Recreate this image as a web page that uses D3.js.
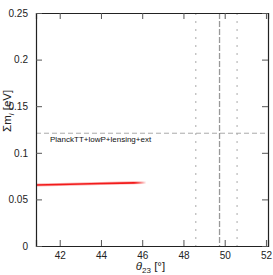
<!DOCTYPE html>
<html>
<head>
<meta charset="utf-8">
<script src="https://cdn.jsdelivr.net/npm/d3@7"></script>
<style>
  body { margin: 0; background: #fff; }
  text { font-family: "Liberation Sans", Arial, sans-serif; }
</style>
</head>
<body>
<div id="chart"></div>
<script>
var WIDTH = 273, HEIGHT = 275;
var margin = {top: 13, right: 5, bottom: 29, left: 36};

// data
var xTicks = [42, 44, 46, 48, 50, 52];
var yTicks = [0, 0.05, 0.1, 0.15, 0.2, 0.25];
var yTickLabels = ['0', '0.05', '0.1', '0.15', '0.2', '0.25'];
var redTheta = [40.85, 42, 43, 44, 45, 46.2];
var redMass = [0.0655, 0.066, 0.0665, 0.067, 0.0675, 0.068];
var planckLimit = 0.121;
var planckLabel = 'PlanckTT+lowP+lensing+ext';
var thetaBest = 49.75;
var thetaRange = [48.6, 50.6];

var w = WIDTH - margin.left - margin.right;
var h = HEIGHT - margin.top - margin.bottom;

var svg = d3.select('#chart').append('svg').attr('width', WIDTH).attr('height', HEIGHT);
var g = svg.append('g').attr('transform', 'translate(' + margin.left + ',' + margin.top + ')');

var x = d3.scaleLinear().domain([40.85, 52.1]).range([0, w]);
var y = d3.scaleLinear().domain([0, 0.25]).range([h, 0]);

// red band fading out at the end
var grad = svg.append('defs').append('linearGradient')
	.attr('id', 'fade').attr('gradientUnits', 'userSpaceOnUse')
	.attr('x1', x(45.6)).attr('x2', x(46.2)).attr('y1', 0).attr('y2', 0);
grad.append('stop').attr('offset', 0).attr('stop-color', '#f21b1b').attr('stop-opacity', 1);
grad.append('stop').attr('offset', 1).attr('stop-color', '#f21b1b').attr('stop-opacity', 0);

var line = d3.line().x(function (d) { return x(d[0]); }).y(function (d) { return y(d[1]); });
var pts = redTheta.map(function (t, i) { return [t, redMass[i]]; });

g.append('path').datum(pts).attr('d', line)
	.attr('fill', 'none').attr('stroke', 'url(#fade)').attr('stroke-width', 3).attr('stroke-opacity', 0.35);
g.append('path').datum(pts).attr('d', line)
	.attr('fill', 'none').attr('stroke', 'url(#fade)').attr('stroke-width', 1.6);

// reference lines
g.append('line')
	.attr('x1', 0).attr('x2', w).attr('y1', y(planckLimit)).attr('y2', y(planckLimit))
	.attr('stroke', '#aaa').attr('stroke-width', 1).attr('stroke-dasharray', '5,3');

g.selectAll('.range').data(thetaRange).enter().append('line')
	.attr('x1', function (d) { return x(d); }).attr('x2', function (d) { return x(d); })
	.attr('y1', 0).attr('y2', h)
	.attr('stroke', '#aaa').attr('stroke-width', 1).attr('stroke-dasharray', '2,6');

g.append('line')
	.attr('x1', x(thetaBest)).attr('x2', x(thetaBest)).attr('y1', 0).attr('y2', h)
	.attr('stroke', '#999').attr('stroke-width', 1.3).attr('stroke-dasharray', '6,2');

g.append('text')
	.attr('x', 14).attr('y', y(planckLimit) + 9)
	.attr('font-size', 8).attr('fill', '#111')
	.text(planckLabel);

// axes with inward ticks on all four sides
var TICK = 6;
var axB = d3.axisBottom(x).tickValues(xTicks).tickSize(-TICK).tickPadding(TICK).tickFormat(d3.format('d'));
var axT = d3.axisTop(x).tickValues(xTicks).tickSize(-TICK).tickFormat('');
var axL = d3.axisLeft(y).tickValues(yTicks).tickSize(-TICK).tickPadding(TICK + 2)
	.tickFormat(function (d, i) { return yTickLabels[i]; });
var axR = d3.axisRight(y).tickValues(yTicks).tickSize(-TICK).tickFormat('');

function style(sel) {
	sel.select('.domain').attr('stroke', '#222').attr('stroke-width', 1.2);
	sel.selectAll('.tick line').attr('stroke', '#555');
	sel.selectAll('.tick text').attr('font-size', 10).attr('fill', '#222').attr('font-family', '"Liberation Sans", Arial, sans-serif');
}

g.append('g').attr('transform', 'translate(0,' + h + ')').call(axB).call(style);
g.append('g').call(axT).call(style);
g.append('g').call(axL).call(style);
g.append('g').attr('transform', 'translate(' + w + ',0)').call(axR).call(style);

// axis titles
var xl = svg.append('text')
	.attr('x', margin.left + x(46.4)).attr('y', HEIGHT - 5)
	.attr('text-anchor', 'middle').attr('font-size', 11.5).attr('fill', '#222');
xl.append('tspan').attr('font-style', 'italic').text('θ');
xl.append('tspan').attr('font-size', 8).attr('dy', 2.5).text('23');
xl.append('tspan').attr('dy', -2.5).text(' [°]');

var yl = svg.append('text')
	.attr('transform', 'translate(11,' + (margin.top + y(0.145)) + ') rotate(-90)')
	.attr('text-anchor', 'middle').attr('font-size', 11.5).attr('fill', '#222');
yl.append('tspan').text('Σm');
yl.append('tspan').attr('font-size', 8).attr('font-style', 'italic').attr('dy', 3).text('i');
yl.append('tspan').attr('dy', -3).text(' [eV]');
</script>
</body>
</html>
